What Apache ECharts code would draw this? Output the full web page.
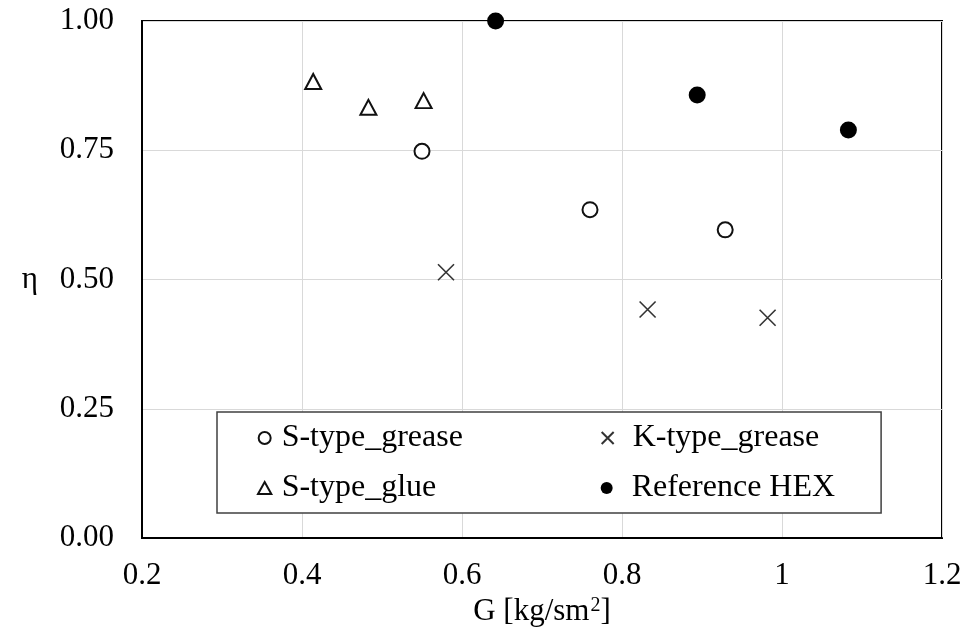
<!DOCTYPE html>
<html>
<head>
<meta charset="utf-8">
<script src="https://cdn.jsdelivr.net/npm/echarts@6/dist/echarts.min.js"></script>
<style>
html,body{margin:0;padding:0;background:#fff;}
#chart{width:967px;height:637px;}
</style>
</head>
<body>
<div id="chart"></div>
<script>
// ---- data ----
var seriesNames = ['S-type_grease', 'K-type_grease', 'S-type_glue', 'Reference HEX'];
var sGreaseG = [0.550, 0.760, 0.929];
var sGreaseEta = [0.748, 0.635, 0.596];
var kGreaseG = [0.580, 0.832, 0.982];
var kGreaseEta = [0.514, 0.442, 0.426];
var sGlueG = [0.414, 0.483, 0.552];
var sGlueEta = [0.883, 0.833, 0.846];
var refG = [0.642, 0.894, 1.083];
var refEta = [1.000, 0.857, 0.789];
var xTicks = {min: 0.2, max: 1.2, interval: 0.2};
var yTicks = {min: 0, max: 1, interval: 0.25};

function pairs(xs, ys) { return xs.map(function (x, i) { return [x, ys[i]]; }); }

var FONT = "'Liberation Serif', 'Times New Roman', serif";
var TRI = 'path://M5,0L10,9L0,9Z';
var chart = echarts.init(document.getElementById('chart'), null, {renderer: 'canvas'});

var option = {
  backgroundColor: '#fff',
  animation: false,
  textStyle: {fontFamily: FONT, color: '#000'},
  grid: {left: 142, right: 25, top: 21, bottom: 99, show: true, borderColor: '#000', borderWidth: 2, backgroundColor: 'transparent'},
  xAxis: {
    type: 'value', min: xTicks.min, max: xTicks.max, interval: xTicks.interval,
    axisLine: {show: true, onZero: false, lineStyle: {color: '#000', width: 2}},
    axisTick: {show: false},
    splitLine: {show: true, lineStyle: {color: '#d9d9d9', width: 1}},
    axisLabel: {fontFamily: FONT, fontSize: 31, color: '#000', margin: 22},
    name: '{a|G [kg/sm}{s|2}{a|]}',
    nameLocation: 'middle', nameGap: 47,
    nameTextStyle: {
      fontFamily: FONT, fontSize: 31, color: '#000',
      rich: {
        a: {fontFamily: FONT, fontSize: 31, color: '#000'},
        s: {fontFamily: FONT, fontSize: 20, color: '#000', verticalAlign: 'top', padding: [0, 0, 0, 1]}
      }
    }
  },
  yAxis: {
    type: 'value', min: yTicks.min, max: yTicks.max, interval: yTicks.interval,
    axisLine: {show: true, onZero: false, lineStyle: {color: '#000', width: 2}},
    axisTick: {show: false},
    splitLine: {show: true, lineStyle: {color: '#d9d9d9', width: 1}},
    axisLabel: {fontFamily: FONT, fontSize: 31, color: '#000', margin: 28,
      formatter: function (v) { return v.toFixed(2); }},
    name: 'η', nameLocation: 'middle', nameRotate: 0, nameGap: 104,
    nameTextStyle: {fontFamily: FONT, fontSize: 31, color: '#000'}
  },
  legend: {
    left: 217, top: 412, width: 630,
    orient: 'horizontal',
    padding: [8, 46, 7, 40],
    itemGap: 14, itemWidth: 24, itemHeight: 12,
    backgroundColor: '#fff', borderColor: '#404040', borderWidth: 1.5,
    textStyle: {fontFamily: FONT, fontSize: 32, color: '#000', lineHeight: 36},
    data: [
      {name: seriesNames[0], textStyle: {width: 305}},
      {name: seriesNames[1], textStyle: {width: 202, padding: [0, 0, 0, 8]}},
      {name: seriesNames[2], textStyle: {width: 305}},
      {name: seriesNames[3], textStyle: {width: 202, padding: [0, 0, 0, 8]}}
    ]
  },
  series: [
    {
      name: seriesNames[0], type: 'scatter', clip: false,
      symbol: 'circle', symbolSize: 15,
      itemStyle: {color: '#fff', borderColor: '#111', borderWidth: 2, opacity: 1},
      data: pairs(sGreaseG, sGreaseEta)
    },
    {
      name: seriesNames[1], type: 'scatter', clip: false,
      symbol: 'path://M0,0L10,10M10,0L0,10', symbolSize: 16,
      itemStyle: {color: 'rgba(0,0,0,0)', borderColor: '#333', borderWidth: 1.6, opacity: 1},
      data: pairs(kGreaseG, kGreaseEta)
    },
    {
      name: seriesNames[2], type: 'scatter', clip: false,
      symbol: TRI, symbolSize: [16, 15],
      itemStyle: {color: '#fff', borderColor: '#111', borderWidth: 2, opacity: 1},
      data: pairs(sGlueG, sGlueEta)
    },
    {
      name: seriesNames[3], type: 'scatter', clip: false, z: 5,
      symbol: 'circle', symbolSize: 17,
      itemStyle: {color: '#000', opacity: 1},
      data: pairs(refG, refEta)
    }
  ]
};
chart.setOption(option);
</script>
</body>
</html>
